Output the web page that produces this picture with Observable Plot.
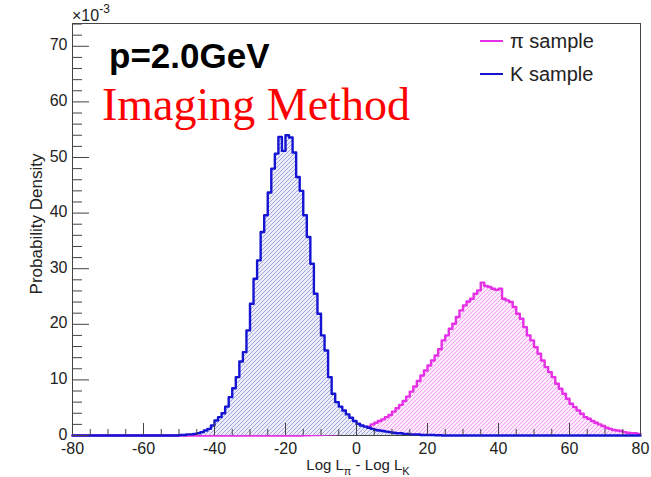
<!DOCTYPE html>
<html><head><meta charset="utf-8">
<script src="https://cdn.jsdelivr.net/npm/d3@7"></script>
<script src="https://cdn.jsdelivr.net/npm/@observablehq/plot@0.6"></script>
<style>body{margin:0;background:#fff} svg{display:block}</style>
</head><body><div id="chart"></div>
<script>
// ---- data (density ×10^-3 per unit bin, bins of width 1 starting at the given value) ----
const xRange = [-80, 80];
const yRange = [0, 74.1];
const kStart = -50;
const kValues = [0.1,0.1,0.2,0.2,0.3,0.4,0.6,0.9,1.2,1.8,
  2.7,3.3,4.0,5.2,6.9,8.5,10.5,13.3,15.0,18.9,
  23.7,28.2,31.5,36.6,39.6,43.7,48.0,50.7,53.7,51.2,
  54.0,53.6,50.9,46.5,44.0,39.6,35.7,30.9,25.5,21.9,
  18.0,15.3,10.5,7.5,6.0,5.2,4.5,3.8,3.2,2.6,
  2.1,1.8,1.6,1.4,1.2,1.0,0.9,0.8,0.7,0.6,
  0.5,0.4,0.4,0.3,0.3,0.2,0.2,0.2,0.1,0.1,
  0.1,0.1,0.05,0.05];
const piStart = -15;
const piValues = [0.05,0.05,0.1,0.1,0.1,0.15,0.15,0.2,0.2,0.25,
  0.3,0.3,0.4,0.5,0.7,0.9,1.1,1.3,1.6,2.0,
  2.3,2.6,2.9,3.3,3.7,4.3,4.9,5.5,6.2,7.0,
  7.9,8.8,9.8,10.8,11.7,12.6,13.5,14.4,15.5,17.1,
  18.0,19.2,20.1,21.3,22.5,23.4,24.1,24.6,25.5,26.1,
  27.5,26.9,26.7,26.4,26.2,26.4,24.6,24.3,24.0,23.1,
  21.9,21.0,19.5,18.0,17.1,15.9,14.7,13.5,12.3,11.4,
  10.5,9.3,8.4,7.5,6.6,5.7,5.1,4.5,3.9,3.3,
  3.0,2.6,2.3,2.0,1.7,1.4,1.2,1.0,0.9,0.8,
  0.6,0.5,0.4,0.4,0.3];
const xTicks = [-80,-60,-40,-20,0,20,40,60,80];
const yTicks = [0,10,20,30,40,50,60,70];
const xMinorStep = 5, yMinorStep = 2;
const seriesNames = ["π sample", "K sample"];
const seriesColors = ["#e630e6", "#1414d2"];
const titleText = "p=2.0GeV";
const methodText = "Imaging Method";

// ---- build tables ----
function bins(start, values) {
  const out = [];
  for (let b = xRange[0]; b < xRange[1]; b++) {
    const i = b - start;
    out.push({x: b, y: (i >= 0 && i < values.length) ? values[i] : 0});
  }
  out.push({x: xRange[1], y: out[out.length - 1].y});
  return out;
}
const piBins = bins(piStart, piValues);
const kBins = bins(kStart, kValues);
const xMinor = d3.range(xRange[0], xRange[1] + 0.001, xMinorStep).filter(v => !xTicks.includes(v));
const yMinor = d3.range(0, yRange[1], yMinorStep).filter(v => !yTicks.includes(v));

const W = 651, H = 477, mL = 72, mR = 11, mT = 23, mB = 42;
const innerW = W - mL - mR, innerH = H - mT - mB;
const axisColor = "#444";
const font = "'Liberation Sans', Arial, Helvetica, sans-serif";

const chart = Plot.plot({
  width: W, height: H,
  marginLeft: mL, marginRight: mR, marginTop: mT, marginBottom: mB,
  x: {domain: xRange},
  y: {domain: yRange},
  style: {fontFamily: font, background: "white", color: "#222"},
  marks: [
    Plot.frame({stroke: axisColor, strokeWidth: 1}),
    Plot.areaY(piBins, {x: "x", y: "y", curve: "step-after", fill: "url(#hatchPi)"}),
    Plot.lineY(piBins, {x: "x", y: "y", curve: "step-after", stroke: seriesColors[0], strokeWidth: 2.4}),
    Plot.areaY(kBins, {x: "x", y: "y", curve: "step-after", fill: "url(#hatchK)"}),
    Plot.lineY(kBins, {x: "x", y: "y", curve: "step-after", stroke: seriesColors[1], strokeWidth: 2.4}),
    Plot.tickX(xTicks, {x: d => d, insetTop: innerH - 12, stroke: axisColor}),
    Plot.tickX(xMinor, {x: d => d, insetTop: innerH - 6, stroke: axisColor}),
    Plot.tickY(yTicks, {y: d => d, insetRight: innerW - 17, stroke: axisColor}),
    Plot.tickY(yMinor, {y: d => d, insetRight: innerW - 10, stroke: axisColor}),
    Plot.axisX({ticks: xTicks, tickSize: 0, tickPadding: 7, fontSize: 16, tickFormat: d => String(d), label: null}),
    Plot.axisY({ticks: yTicks, tickSize: 0, tickPadding: 5, fontSize: 16, dy: -1, tickFormat: d => String(d), label: null})
  ]
});
document.getElementById("chart").appendChild(chart);

// ---- patterns & annotations ----
const svg = d3.select(chart);
const defs = svg.insert("defs", ":first-child");
function hatch(id, bg, fg) {
  const p = defs.append("pattern").attr("id", id).attr("patternUnits", "userSpaceOnUse")
    .attr("width", 4).attr("height", 4);
  p.append("rect").attr("width", 4).attr("height", 4).attr("fill", bg);
  p.append("path").attr("d", "M0,4L4,0M-1,1L1,-1M3,5L5,3")
    .attr("stroke", fg).attr("stroke-width", 0.7);
}
hatch("hatchPi", "#fdeafd", "#ee80ee");
hatch("hatchK", "#ecedf8", "#8286d4");

const g = svg.append("g").attr("font-family", font).attr("text-anchor", "start");
// ×10^-3
const exp = g.append("text").attr("x", mL).attr("y", 21).attr("font-size", 16).attr("fill", "#222");
exp.append("tspan").text("×10");
exp.append("tspan").attr("dy", -8).attr("font-size", 12).text("-3");
// x title
const xt = g.append("text").attr("x", (mL + W - mR) / 2 + 2).attr("y", 470).attr("text-anchor", "middle")
  .attr("font-size", 15).attr("fill", "#222");
xt.append("tspan").text("Log L");
xt.append("tspan").attr("dy", 5).attr("font-size", 11).text("π");
xt.append("tspan").attr("dy", -5).text(" - Log L");
xt.append("tspan").attr("dy", 5).attr("font-size", 11).text("K");
// y title
g.append("text").attr("transform", "translate(42,224) rotate(-90)").attr("text-anchor", "middle")
  .attr("font-size", 17).attr("fill", "#222").text("Probability Density");
// header texts
g.append("text").attr("x", 109).attr("y", 68).attr("font-size", 35).attr("font-weight", "bold")
  .attr("fill", "#000").text(titleText);
g.append("text").attr("x", 102).attr("y", 120).attr("font-size", 46)
  .attr("font-family", "'Liberation Serif', 'Times New Roman', serif").attr("fill", "#ff0000").text(methodText);
// legend
seriesNames.forEach((name, i) => {
  const y = 41 + i * 33;
  g.append("line").attr("x1", 480).attr("x2", 503).attr("y1", y).attr("y2", y)
    .attr("stroke", seriesColors[i]).attr("stroke-width", 2);
  g.append("text").attr("x", 510).attr("y", y + 7).attr("font-size", 20).attr("fill", "#222").text(name);
});
</script>
</body></html>
